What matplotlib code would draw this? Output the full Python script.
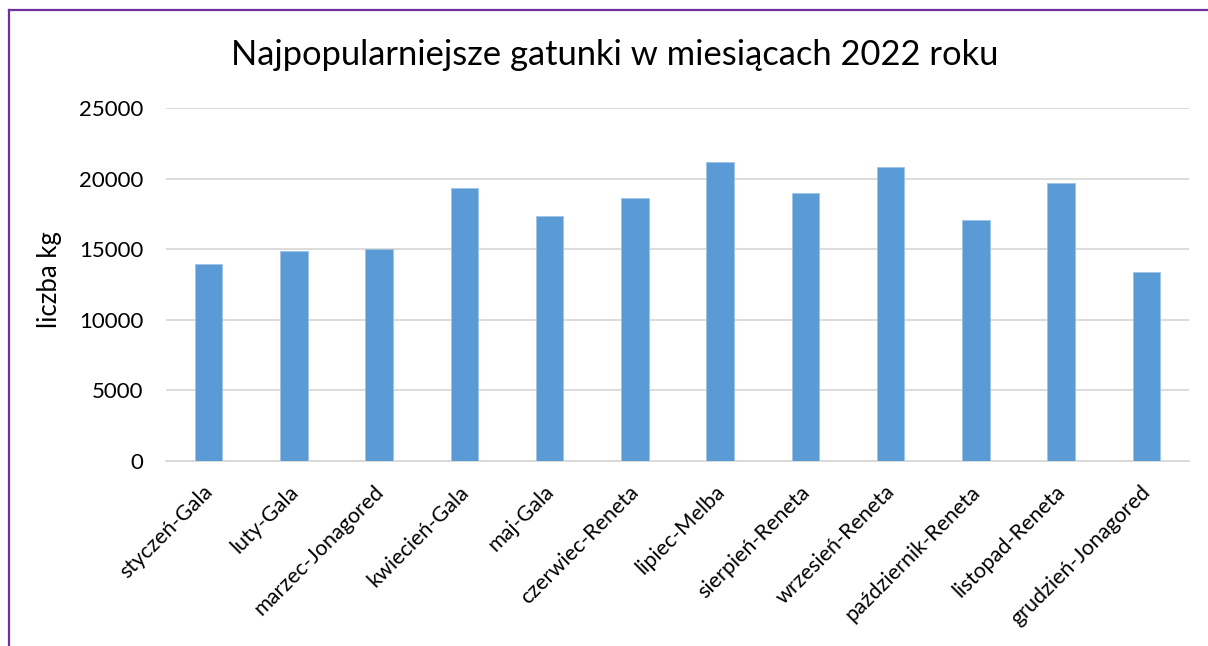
import matplotlib.pyplot as plt
import matplotlib.transforms as mtransforms
from matplotlib.lines import Line2D

# categories (month-variety) and amounts in kg
labels = [
    'styczeń-Gala', 'luty-Gala', 'marzec-Jonagored', 'kwiecień-Gala', 'maj-Gala',
    'czerwiec-Reneta', 'lipiec-Melba', 'sierpień-Reneta', 'wrzesień-Reneta',
    'październik-Reneta', 'listopad-Reneta', 'grudzień-Jonagored'
]
values = [13950, 14900, 15000, 19350, 17350, 18600, 21150, 19000, 20850, 17050, 19700, 13400]
y_ticks = [0, 5000, 10000, 15000, 20000, 25000]

plt.rcParams['font.family'] = ['Lato', 'DejaVu Sans']

W, H = 1208, 646
fig = plt.figure(figsize=(W / 100, H / 100), dpi=100)
ax = fig.add_axes([166 / W, 1 - 461 / H, (1189 - 166) / W, (461 - 108) / H])

x = range(len(labels))
ax.bar(x, values, width=0.32, color='#5B9BD5', edgecolor='#9DC3E6', linewidth=0.6, zorder=3)

ax.set_xlim(-0.5, len(labels) - 0.5)
ax.set_ylim(0, 25000)
ax.set_yticks(y_ticks)
ax.set_yticklabels([str(v) for v in y_ticks], fontsize=16)
ax.set_xticks(list(x))
ax.set_xticklabels(labels, rotation=45, ha='right', rotation_mode='anchor', fontsize=15.5)
ax.tick_params(axis='x', length=0, pad=15)
ax.tick_params(axis='y', length=0, pad=16.5)

# nudge the rotated labels a little to the left
shift = mtransforms.ScaledTranslation(-6 / 100, 0, fig.dpi_scale_trans)
for lbl in ax.get_xticklabels():
    lbl.set_transform(lbl.get_transform() + shift)

ax.grid(axis='y', color='#D9D9D9', linewidth=1.3, zorder=0)
for s in ['top', 'right', 'left']:
    ax.spines[s].set_visible(False)
ax.spines['bottom'].set_color('#D9D9D9')
ax.spines['bottom'].set_linewidth(1.3)

fig.text(49 / W, 1 - 280 / H, 'liczba kg', fontsize=18.5, rotation=90, ha='center', va='center')
fig.text(0.5 * (233 + 997) / W, 1 - 55 / H, 'Najpopularniejsze gatunki w miesiącach 2022 roku',
         fontsize=24.8, ha='center', va='center')

# purple frame (left and top edges visible)
fig.add_artist(Line2D([9 / W, 9 / W], [0, 1 - 10 / H], color='#7030A0', linewidth=1.6))
fig.add_artist(Line2D([9 / W, 1], [1 - 10 / H, 1 - 10 / H], color='#7030A0', linewidth=1.6))

fig.savefig('out.png', dpi=100)
